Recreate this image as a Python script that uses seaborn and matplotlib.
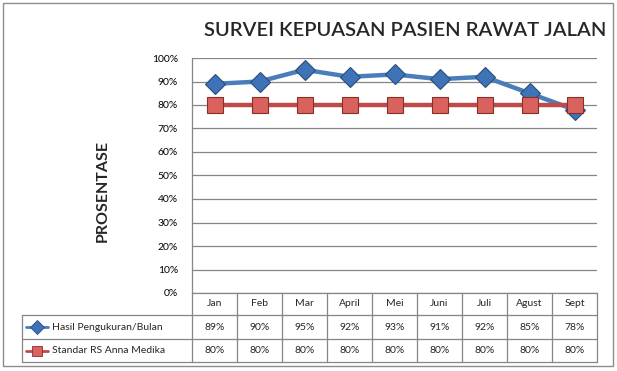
import numpy as np
import pandas as pd
import matplotlib
matplotlib.use("Agg")
import matplotlib.pyplot as plt
import seaborn as sns
from matplotlib.ticker import PercentFormatter, MultipleLocator
from matplotlib.lines import Line2D
from matplotlib.patches import Rectangle

months = ["Jan", "Feb", "Mar", "April", "Mei", "Juni", "Juli", "Agust", "Sept"]
hasil = [0.89, 0.90, 0.95, 0.92, 0.93, 0.91, 0.92, 0.85, 0.78]
standar = [0.80, 0.80, 0.80, 0.80, 0.80, 0.80, 0.80, 0.80, 0.80]
series_names = ["Hasil Pengukuran/Bulan", "Standar RS Anna Medika"]

title = "SURVEI KEPUASAN PASIEN RAWAT JALAN"
ylabel = "PROSENTASE"

line_colors = ["#4A7EBB", "#BE4B48"]
marker_faces = ["#3F73B8", "#D9625E"]
marker_edges = ["#284E7E", "#8C2D2A"]
marker_shapes = ["D", "s"]
grid_color = "#868686"

df = pd.DataFrame({
    "month": months * 2,
    "idx": list(range(len(months))) * 2,
    "value": hasil + standar,
    "series": [series_names[0]] * len(months) + [series_names[1]] * len(months),
})

sns.set_theme(style="white")
plt.rcParams["font.family"] = ["Lato", "DejaVu Sans"]

fig = plt.figure(figsize=(6.17, 3.71), dpi=100)
W, H = 617, 371
ax = fig.add_axes([192 / W, (H - 293) / H, 405 / W, 235 / H])

sns.lineplot(data=df, x="idx", y="value", hue="series", style="series",
             palette=dict(zip(series_names, line_colors)),
             markers=dict(zip(series_names, marker_shapes)),
             dashes=False, linewidth=3.2, markersize=10, legend=False, ax=ax,
             zorder=3)
for ln, fc, ec, ms in zip(ax.lines, marker_faces, marker_edges, [10, 11]):
    ln.set_markerfacecolor(fc)
    ln.set_markeredgecolor(ec)
    ln.set_markeredgewidth(0.8)
    ln.set_markersize(ms)
    ln.set_clip_on(False)

ax.set_xlim(-0.5, len(months) - 0.5)
ax.set_ylim(0, 1)
ax.yaxis.set_major_locator(MultipleLocator(0.1))
ax.yaxis.set_major_formatter(PercentFormatter(1.0, decimals=0))
ax.set_xticks([])
ax.set_xlabel("")
ax.set_ylabel("")
ax.grid(axis="y", color=grid_color, linewidth=0.9)
ax.set_axisbelow(True)
for s in ["top", "right"]:
    ax.spines[s].set_visible(False)
for s in ["left", "bottom"]:
    ax.spines[s].set_color(grid_color)
    ax.spines[s].set_linewidth(0.9)
ax.tick_params(axis="y", labelsize=7.5, colors="black", length=4, color=grid_color,
               pad=6)

# data table under the plot
n = len(months)
col_w = 405 / n
left_x = -0.5 - (192 - 22) / col_w
rows_y = [0, -22 / 235, -46 / 235, -69 / 235]
trans = ax.get_xaxis_transform()
lkw = dict(color=grid_color, linewidth=0.9, transform=trans, clip_on=False)
for i in range(n + 1):
    ax.add_line(Line2D([i - 0.5, i - 0.5], [rows_y[0], rows_y[3]], **lkw))
ax.add_line(Line2D([left_x, left_x], [rows_y[1], rows_y[3]], **lkw))
for y in rows_y[1:]:
    ax.add_line(Line2D([left_x, n - 0.5], [y, y], **lkw))

for i, m in enumerate(months):
    ax.text(i, (rows_y[0] + rows_y[1]) / 2, m, transform=trans, ha="center",
            va="center", fontsize=7.5)
for r, vals in enumerate([hasil, standar]):
    yc = (rows_y[r + 1] + rows_y[r + 2]) / 2
    for i, v in enumerate(vals):
        ax.text(i, yc, f"{v:.0%}", transform=trans, ha="center", va="center",
                fontsize=7.5)
    key_x0 = left_x + 4 / col_w
    key_x1 = left_x + 26 / col_w
    ax.add_line(Line2D([key_x0, key_x1], [yc, yc], color=line_colors[r],
                       linewidth=2, transform=trans, clip_on=False))
    ax.add_line(Line2D([(key_x0 + key_x1) / 2], [yc], marker=marker_shapes[r],
                       markersize=7, markerfacecolor=marker_faces[r],
                       markeredgecolor=marker_edges[r], markeredgewidth=0.6,
                       linestyle="none", transform=trans, clip_on=False))
    ax.text(left_x + 30 / col_w, yc, series_names[r], transform=trans,
            ha="left", va="center", fontsize=7.5)

fig.text(405 / W, 1 - 31 / H, title, ha="center", va="center", fontsize=14.5,
         fontweight="semibold")
fig.text(103 / W, 1 - 191 / H, ylabel, ha="center", va="center", fontsize=11.5,
         fontweight="bold", rotation=90)

fig.patches.append(Rectangle((3 / W, 5 / H), 610 / W, 363 / H, fill=False,
                             edgecolor="#8C8C8C", linewidth=1.0,
                             transform=fig.transFigure))

fig.savefig("out.png", dpi=100)
